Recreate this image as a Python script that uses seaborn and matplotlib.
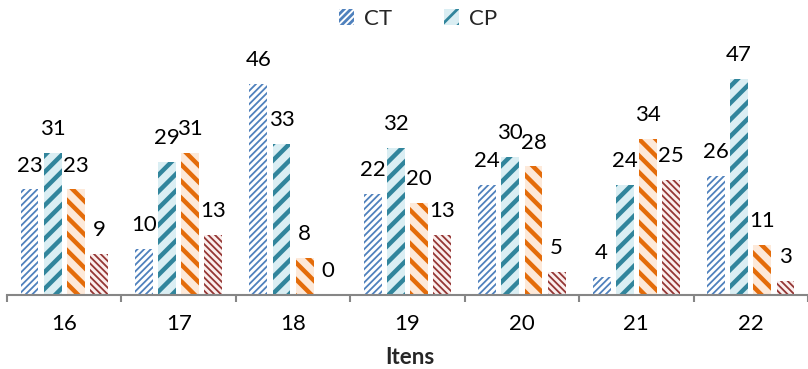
import matplotlib
matplotlib.use("Agg")
import matplotlib.pyplot as plt
import matplotlib.patches as mpatches
import seaborn as sns
import pandas as pd

# Dados por item
itens = ["16", "17", "18", "19", "20", "21", "22"]
series = ["CT", "CP", "Série 3", "Série 4"]
ct = [23, 10, 46, 22, 24, 4, 26]
cp = [31, 29, 33, 32, 30, 24, 47]
serie3 = [23, 31, 8, 20, 28, 34, 11]
serie4 = [9, 13, 0, 13, 5, 25, 3]

valores = {"CT": ct, "CP": cp, "Série 3": serie3, "Série 4": serie4}
df = pd.DataFrame(
    [(item, s, valores[s][i]) for s in series for i, item in enumerate(itens)],
    columns=["Itens", "Série", "Valor"],
)

# Estilo de cada série: fundo, cor das listras, padrão, espessura das listras
estilos = {
    "CT": ("#FFFFFF", "#4F81BD", "/////", 1.3),
    "CP": ("#DAEEF3", "#31859C", "//", 3.2),
    "Série 3": ("#FDE9D9", "#E46C0A", "\\\\", 3.2),
    "Série 4": ("#FBEFEE", "#953735", "\\\\\\\\\\", 1.3),
}

sns.set_style("white")
plt.rcParams["font.family"] = ["Lato", "DejaVu Sans"]
plt.rcParams["hatch.linewidth"] = 2.0

fig = plt.figure(figsize=(8.08, 3.69), dpi=100)
W, H = 808, 369
cat_px = 115.3
ax = fig.add_axes([7 / W, 74 / H, 801 / W, 229.5 / H])

sns.barplot(
    data=df, x="Itens", y="Valor", hue="Série", order=itens, hue_order=series,
    width=0.81, gap=0.23, palette=["#ffffff"] * 4, legend=False, ax=ax,
)

for s, cont in zip(series, ax.containers):
    fc, hc, hatch, hlw = estilos[s]
    for bar in cont:
        bar.set_facecolor(fc)
        bar.set_edgecolor(hc)
        bar.set_linewidth(0)
        bar.set_hatch(hatch)
        if hasattr(bar, "set_hatch_linewidth"):
            bar.set_hatch_linewidth(hlw)
    ax.bar_label(cont, labels=[str(v) for v in valores[s]], padding=10,
                 fontsize=16, color="#000000")

ax.set_xlim(-0.5, -0.5 + 801 / cat_px)
ax.set_ylim(0, 50)
ax.set_yticks([])
ax.set_ylabel("")
ax.set_xlabel("")

for side in ("left", "right", "top"):
    ax.spines[side].set_visible(False)
ax.spines["bottom"].set_color("#868686")
ax.spines["bottom"].set_linewidth(1.5)

ax.set_xticks(range(len(itens)))
ax.set_xticklabels(itens, fontsize=16)
ax.set_xticks([i - 0.5 for i in range(len(itens) + 1)], minor=True)
ax.tick_params(axis="x", which="major", length=0, pad=14, colors="#000000")
ax.tick_params(axis="x", which="minor", length=5, width=1.5, color="#868686",
               direction="out", bottom=True)
ax.tick_params(axis="x", which="major", labelcolor="#000000")

fig.text(410 / W, 5 / H, "Itens", ha="center", va="baseline",
         fontsize=16, fontweight="bold")

handles = []
for s in series[:2]:
    fc, hc, hatch, hlw = estilos[s]
    p = mpatches.Patch(facecolor=fc, edgecolor=hc, linewidth=0, hatch=hatch, label=s)
    if hasattr(p, "set_hatch_linewidth"):
        p.set_hatch_linewidth(hlw)
    handles.append(p)
fig.legend(handles=handles, loc="center", bbox_to_anchor=(418 / W, 1 - 19 / H),
           ncol=2, frameon=False, fontsize=16, handlelength=0.7,
           handleheight=0.7, handletextpad=0.45, columnspacing=2.3)

fig.savefig("out.png", dpi=100)
